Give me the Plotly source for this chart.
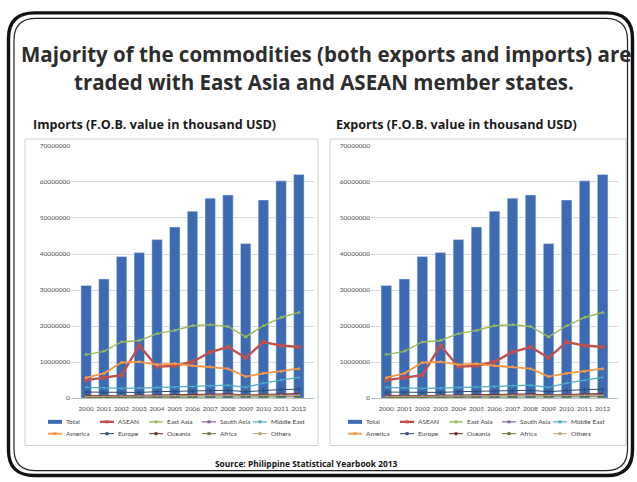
import plotly.graph_objects as go

W, H = 637, 482

# ---- data (F.O.B. value in thousand USD) ----
years = [str(y) for y in range(2000, 2013)]

imp_total = [31300000, 33100000, 39300000, 40400000, 44000000, 47500000, 51900000,
             55500000, 56400000, 42900000, 55000000, 60300000, 62100000]
imp_asean = [5000000, 5700000, 6400000, 14600000, 8700000, 9000000, 10100000,
             12800000, 14200000, 11200000, 15600000, 14600000, 14200000]
imp_east_asia = [12100000, 13000000, 15600000, 16000000, 17900000, 18800000, 20100000,
                 20400000, 19900000, 17000000, 20100000, 22400000, 23800000]
imp_south_asia = [400000, 400000, 500000, 500000, 600000, 600000, 700000,
                  800000, 900000, 700000, 900000, 1000000, 1100000]
imp_middle_east = [3000000, 2800000, 2700000, 2800000, 3000000, 3000000, 3200000,
                   3400000, 3600000, 3000000, 4200000, 5000000, 5800000]
imp_america = [5700000, 6900000, 9900000, 10100000, 9300000, 9600000, 9000000,
               8700000, 8200000, 6000000, 6900000, 7500000, 8200000]
imp_europe = [1700000, 1600000, 1500000, 1600000, 1800000, 1800000, 2000000,
              2100000, 2200000, 1800000, 2200000, 2400000, 2500000]
imp_oceania = [800000, 700000, 700000, 800000, 900000, 900000, 1000000,
               1100000, 1200000, 900000, 1100000, 1200000, 1300000]
imp_africa = [200000, 200000, 200000, 200000, 300000, 300000, 300000,
              300000, 400000, 300000, 300000, 400000, 400000]
imp_others = [500000, 500000, 600000, 600000, 600000, 700000, 700000,
              800000, 800000, 600000, 700000, 800000, 800000]

exp_total = [31300000, 33100000, 39300000, 40400000, 44000000, 47500000, 51900000,
             55500000, 56400000, 42900000, 55000000, 60300000, 62100000]
exp_asean = [5000000, 5700000, 6400000, 14600000, 8700000, 9000000, 10100000,
             12800000, 14200000, 11200000, 15600000, 14600000, 14200000]
exp_east_asia = [12100000, 13000000, 15600000, 16000000, 17900000, 18800000, 20100000,
                 20400000, 19900000, 17000000, 20100000, 22400000, 23800000]
exp_south_asia = [400000, 400000, 500000, 500000, 600000, 600000, 700000,
                  800000, 900000, 700000, 900000, 1000000, 1100000]
exp_middle_east = [3000000, 2800000, 2700000, 2800000, 3000000, 3000000, 3200000,
                   3400000, 3600000, 3000000, 4200000, 5000000, 5800000]
exp_america = [5700000, 6900000, 9900000, 10100000, 9300000, 9600000, 9000000,
               8700000, 8200000, 6000000, 6900000, 7500000, 8200000]
exp_europe = [1700000, 1600000, 1500000, 1600000, 1800000, 1800000, 2000000,
              2100000, 2200000, 1800000, 2200000, 2400000, 2500000]
exp_oceania = [800000, 700000, 700000, 800000, 900000, 900000, 1000000,
               1100000, 1200000, 900000, 1100000, 1200000, 1300000]
exp_africa = [200000, 200000, 200000, 200000, 300000, 300000, 300000,
              300000, 400000, 300000, 300000, 400000, 400000]
exp_others = [500000, 500000, 600000, 600000, 600000, 700000, 700000,
              800000, 800000, 600000, 700000, 800000, 800000]

series_names = ["Total", "ASEAN", "East Asia", "South Asia", "Middle East",
                "America", "Europe", "Oceania", "Africa", "Others"]
y_ticks = [0, 10000000, 20000000, 30000000, 40000000, 50000000, 60000000, 70000000]

# ---- styles ----
BAR_COLOR = "#3c6bb4"
line_styles = {
    "ASEAN": dict(color="#c0504d", width=2.4, symbol="square", size=4),
    "East Asia": dict(color="#9bbb59", width=1.4, symbol="triangle-up", size=4),
    "South Asia": dict(color="#8064a2", width=1.2, symbol="x", size=3),
    "Middle East": dict(color="#4bacc6", width=1.2, symbol="star", size=3),
    "America": dict(color="#f79646", width=1.8, symbol="circle", size=3),
    "Europe": dict(color="#2c4d75", width=1.0, symbol="cross", size=3),
    "Oceania": dict(color="#772c2a", width=1.0, symbol="circle", size=2),
    "Africa": dict(color="#5f7530", width=1.0, symbol="circle", size=2),
    "Others": dict(color="#b9a37a", width=1.0, symbol="circle", size=2),
}

BOLD = "Open Sans, sans-serif"
SMALL = "Lato, sans-serif"


def fx(px):
    return px / W


def fy(py):
    return 1 - py / H


imports = [imp_total, imp_asean, imp_east_asia, imp_south_asia, imp_middle_east,
           imp_america, imp_europe, imp_oceania, imp_africa, imp_others]
exports = [exp_total, exp_asean, exp_east_asia, exp_south_asia, exp_middle_east,
           exp_america, exp_europe, exp_oceania, exp_africa, exp_others]

fig = go.Figure()

for data, xa, ya in [(imports, "x", "y"), (exports, "x2", "y2")]:
    fig.add_trace(go.Bar(x=years, y=data[0], name=series_names[0], marker_color=BAR_COLOR,
                         xaxis=xa, yaxis=ya, showlegend=False))
    for name, vals in zip(series_names[1:], data[1:]):
        st = line_styles[name]
        fig.add_trace(go.Scatter(x=years, y=vals, name=name, mode="lines+markers",
                                 line=dict(color=st["color"], width=st["width"]),
                                 marker=dict(symbol=st["symbol"], size=st["size"], color=st["color"]),
                                 xaxis=xa, yaxis=ya, showlegend=False))

y_dom = [fy(400), fy(144)]
axis_font = dict(family=SMALL, size=6.5, color="#4d4d4d")
xcommon = dict(type="category", tickfont=axis_font, showgrid=False, showline=True,
               linecolor="#bfbfbf", linewidth=1, ticks="", ticklabelstandoff=4,
               fixedrange=True)
ycommon = dict(range=[0, 70000000], tickvals=y_ticks, tickformat="d", tickfont=axis_font,
               showgrid=True, gridcolor="#d9d9d9", gridwidth=1, zeroline=False,
               showline=False, ticks="", fixedrange=True, domain=y_dom)

fig.update_layout(
    width=W, height=H,
    margin=dict(l=0, r=0, t=0, b=0),
    paper_bgcolor="white", plot_bgcolor="rgba(0,0,0,0)",
    barmode="overlay", bargap=0.41, showlegend=False,
    xaxis=dict(domain=[fx(71), fx(314)], anchor="y", **xcommon),
    yaxis=dict(anchor="x", **ycommon),
    xaxis2=dict(domain=[fx(371), fx(618)], anchor="y2", **xcommon),
    yaxis2=dict(anchor="x2", **ycommon),
    font=dict(family=SMALL),
)

shapes = []


def rounded_rect(x0, y0, x1, y1, r):
    return (f"M {fx(x0 + r)} {fy(y0)} L {fx(x1 - r)} {fy(y0)} "
            f"Q {fx(x1)} {fy(y0)} {fx(x1)} {fy(y0 + r)} "
            f"L {fx(x1)} {fy(y1 - r)} Q {fx(x1)} {fy(y1)} {fx(x1 - r)} {fy(y1)} "
            f"L {fx(x0 + r)} {fy(y1)} Q {fx(x0)} {fy(y1)} {fx(x0)} {fy(y1 - r)} "
            f"L {fx(x0)} {fy(y0 + r)} Q {fx(x0)} {fy(y0)} {fx(x0 + r)} {fy(y0)} Z")


# slide frame (double rounded border)
shapes.append(dict(type="path", xref="paper", yref="paper", layer="above",
                   path=rounded_rect(8.5, 9, 632.5, 478.5, 26),
                   line=dict(color="#111111", width=3.4)))
shapes.append(dict(type="path", xref="paper", yref="paper", layer="above",
                   path=rounded_rect(14, 14.5, 627.5, 473.5, 22),
                   line=dict(color="#222222", width=1.2)))

# chart area boxes
for bx0, bx1 in [(25, 318), (330, 626)]:
    shapes.append(dict(type="rect", xref="paper", yref="paper", layer="below",
                       x0=fx(bx0), x1=fx(bx1), y0=fy(448), y1=fy(137),
                       line=dict(color="#d0d0d0", width=1), fillcolor="rgba(0,0,0,0)"))

annotations = []

# legends drawn below each chart
col_x = [48, 100, 149, 202, 253]
row_y = [424, 436]
for off in (0, 300):
    for i, name in enumerate(series_names):
        cx = col_x[i % 5] + off
        ry = row_y[i // 5]
        if name == "Total":
            shapes.append(dict(type="rect", xref="paper", yref="paper",
                               x0=fx(cx), x1=fx(cx + 14), y0=fy(ry + 2), y1=fy(ry - 2),
                               fillcolor=BAR_COLOR, line=dict(width=0)))
        else:
            st = line_styles[name]
            shapes.append(dict(type="line", xref="paper", yref="paper",
                               x0=fx(cx), x1=fx(cx + 14), y0=fy(ry), y1=fy(ry),
                               line=dict(color=st["color"], width=st["width"])))
            shapes.append(dict(type="rect", xref="paper", yref="paper",
                               x0=fx(cx + 5.5), x1=fx(cx + 8.5), y0=fy(ry + 1.5), y1=fy(ry - 1.5),
                               fillcolor=st["color"], line=dict(width=0)))
        annotations.append(dict(x=fx(cx + 16), y=fy(ry), xref="paper", yref="paper",
                                text=name, showarrow=False, xanchor="left", yanchor="middle",
                                font=dict(family=SMALL, size=6.5, color="#444444")))

# headings
title_font = dict(family=BOLD, size=20.5, color="#2d2d2d")
annotations.append(dict(x=fx(326), y=fy(51), xref="paper", yref="paper", showarrow=False,
                        text="<b>Majority of the commodities (both exports and imports) are</b>",
                        font=title_font, xanchor="center", yanchor="middle"))
annotations.append(dict(x=fx(324), y=fy(79), xref="paper", yref="paper", showarrow=False,
                        text="<b>traded with East Asia and ASEAN member states.</b>",
                        font=title_font, xanchor="center", yanchor="middle"))

sub_font = dict(family=BOLD, size=12.6, color="#1a1a1a")
annotations.append(dict(x=fx(31), y=fy(122), xref="paper", yref="paper", showarrow=False,
                        text="<b>Imports (F.O.B. value in thousand USD)</b>",
                        font=sub_font, xanchor="left", yanchor="middle"))
annotations.append(dict(x=fx(334), y=fy(122), xref="paper", yref="paper", showarrow=False,
                        text="<b>Exports (F.O.B. value in thousand USD)</b>",
                        font=sub_font, xanchor="left", yanchor="middle"))

annotations.append(dict(x=fx(306), y=fy(466), xref="paper", yref="paper", showarrow=False,
                        text="<b>Source: Philippine Statistical Yearbook 2013</b>",
                        font=dict(family=BOLD, size=8.4, color="#111111"),
                        xanchor="center", yanchor="middle"))

fig.update_layout(shapes=shapes, annotations=annotations)

fig.write_html("out.html")
